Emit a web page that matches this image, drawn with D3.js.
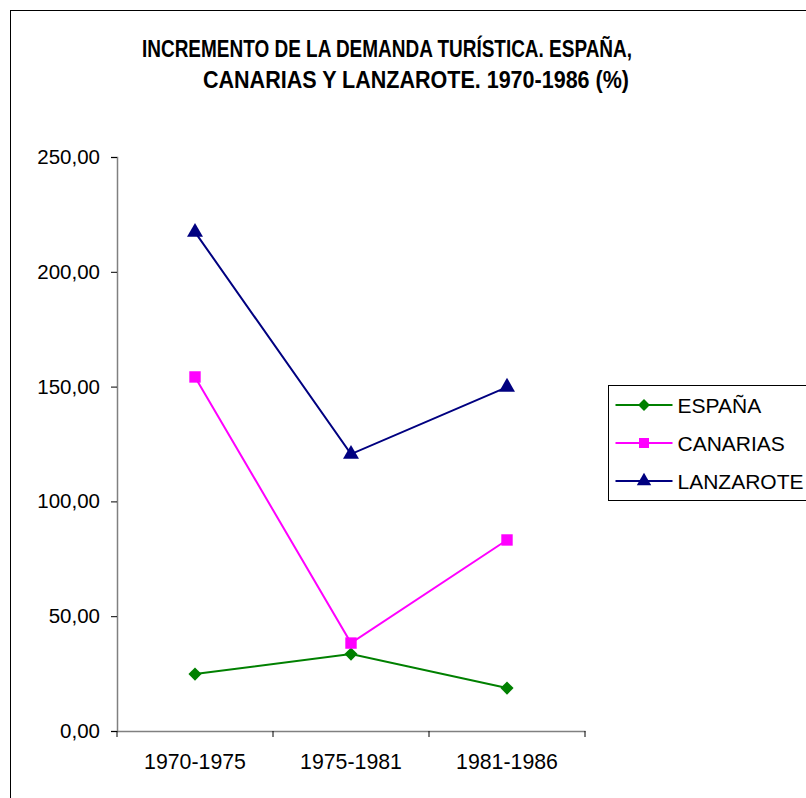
<!DOCTYPE html>
<meta charset="utf-8">
<body style="margin:0;background:#fff">
<svg width="806" height="798"></svg>
<script src="https://d3js.org/d3.v7.min.js"></script>
<script>

var periods = ["1970-1975", "1975-1981", "1981-1986"];
var espana = [24.8, 33.5, 18.7];
var canarias = [154.2, 38.3, 83.2];
var lanzarote = [217.3, 120.6, 149.8];
var yTicks = [0, 50, 100, 150, 200, 250];
var seriesNames = ["ESPAÑA", "CANARIAS", "LANZAROTE"];

var series = [
  {name: seriesNames[0], values: espana, color: "#008000", shape: d3.symbolDiamond2},
  {name: seriesNames[1], values: canarias, color: "#ff00ff", shape: d3.symbolSquare},
  {name: seriesNames[2], values: lanzarote, color: "#000080", shape: d3.symbolTriangle}
];

var svg = d3.select("svg");
var font = "Liberation Sans, Arial, sans-serif";

// chart area border
svg.append("rect")
  .attr("x", 10.5).attr("y", 10.5)
  .attr("width", 820).attr("height", 820)
  .attr("fill", "none").attr("stroke", "#000").attr("stroke-width", 1);

// title (narrow bold look, squeezed to width)
svg.append("text")
  .attr("x", 142).attr("y", 57)
  .attr("font-family", font).attr("font-weight", "bold").attr("font-size", "24px")
  .attr("textLength", 490).attr("lengthAdjust", "spacingAndGlyphs")
  .text("INCREMENTO DE LA DEMANDA TURÍSTICA. ESPAÑA,");
svg.append("text")
  .attr("x", 203).attr("y", 88)
  .attr("font-family", font).attr("font-weight", "bold").attr("font-size", "24px")
  .attr("textLength", 426).attr("lengthAdjust", "spacingAndGlyphs")
  .text("CANARIAS Y LANZAROTE. 1970-1986 (%)");

var x = d3.scaleBand().domain(periods).range([117, 585]);
var y = d3.scaleLinear().domain([0, 250]).range([731, 157]);

// y axis
var yAxis = svg.append("g")
  .attr("transform", "translate(117,0)")
  .call(d3.axisLeft(y).tickValues(yTicks).tickSize(6).tickPadding(11)
    .tickFormat(function(d) { return d3.format(".2f")(d).replace(".", ","); }));
yAxis.select(".domain").attr("stroke", "#808080").attr("stroke-width", 1.5);
yAxis.selectAll(".tick line").attr("stroke", "#000");
yAxis.selectAll("text").attr("font-family", font).attr("font-size", "20.5px").attr("fill", "#000");

// x axis
var xAxis = svg.append("g")
  .attr("transform", "translate(0,731)")
  .call(d3.axisBottom(x).tickSize(0).tickPadding(23));
xAxis.select(".domain").attr("stroke", "#808080").attr("stroke-width", 1.5);
xAxis.selectAll("text").attr("font-family", font).attr("font-size", "21.3px").attr("fill", "#000");
xAxis.selectAll(".edge").data(d3.range(periods.length + 1)).enter()
  .append("line")
  .attr("x1", function(i) { return 117 + i * x.step(); })
  .attr("x2", function(i) { return 117 + i * x.step(); })
  .attr("y1", 0).attr("y2", 6)
  .attr("stroke", "#000");

var line = d3.line()
  .x(function(d, i) { return x(periods[i]) + x.bandwidth() / 2; })
  .y(function(d) { return y(d); });

series.forEach(function(s) {
  svg.append("path")
    .attr("d", line(s.values))
    .attr("fill", "none")
    .attr("stroke", s.color)
    .attr("stroke-width", 2);
  svg.selectAll(null).data(s.values).enter()
    .append("path")
    .attr("d", d3.symbol().type(s.shape).size(s.shape === d3.symbolSquare ? 130 : 110))
    .attr("transform", function(d, i) {
      return "translate(" + (x(periods[i]) + x.bandwidth() / 2) + "," + y(d) + ")";
    })
    .attr("fill", s.color);
});

// legend
var legend = svg.append("g").attr("transform", "translate(608.5,385.5)");
legend.append("rect")
  .attr("width", 220).attr("height", 115)
  .attr("fill", "#fff").attr("stroke", "#000");
series.forEach(function(s, i) {
  var g = legend.append("g").attr("transform", "translate(0," + (19.5 + i * 38) + ")");
  g.append("line").attr("x1", 7).attr("x2", 64).attr("y1", 0).attr("y2", 0)
    .attr("stroke", s.color).attr("stroke-width", 2);
  g.append("path")
    .attr("d", d3.symbol().type(s.shape).size(s.shape === d3.symbolSquare ? 100 : 90))
    .attr("transform", "translate(35.5,0)")
    .attr("fill", s.color);
  g.append("text").attr("x", 69).attr("y", 7.5)
    .attr("font-family", font).attr("font-size", "21px")
    .text(s.name);
});

</script>
</body>
